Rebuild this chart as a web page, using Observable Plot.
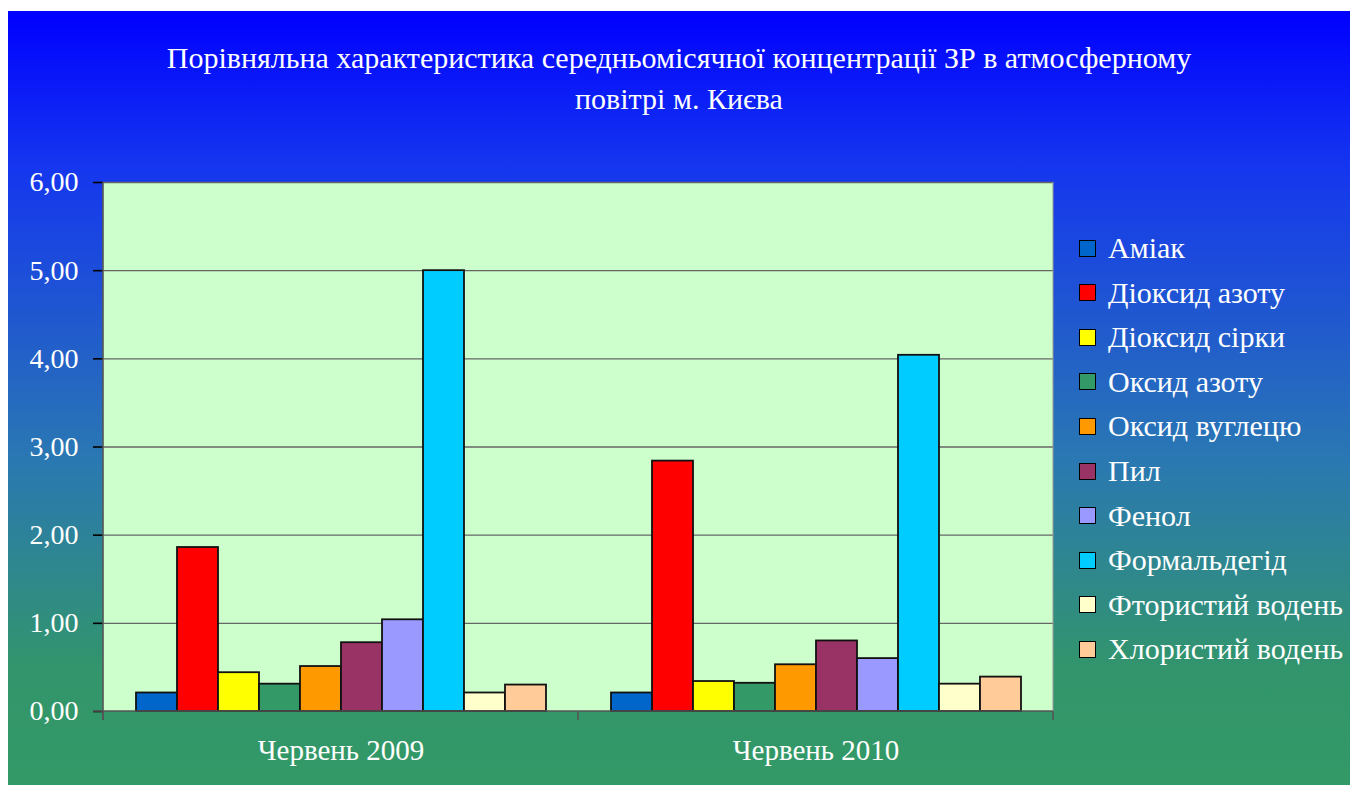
<!DOCTYPE html>
<html>
<head>
<meta charset="utf-8">
<script src="https://cdn.jsdelivr.net/npm/d3@7"></script>
<script src="https://cdn.jsdelivr.net/npm/@observablehq/plot@0.6"></script>
<style>
  html, body { margin: 0; padding: 0; background: #fff; }
  #page { position: relative; width: 1350px; height: 785px; overflow: hidden; background: #fff; font-family: "Liberation Serif", "Times New Roman", serif; }
  #bg { position: absolute; left: 8px; top: 11px; width: 1342px; height: 774px;
        background: linear-gradient(to bottom, #0000ff 0%, #1536ef 20%, #2a78b2 58%, #32956c 85%, #339966 100%); }
  #title { position: absolute; left: 8px; width: 1342px; top: 37px; text-align: center; color: #fff; font-size: 30px; line-height: 41px; }
  #chart { position: absolute; left: 8px; top: 140px; }
  #legend { position: absolute; left: 1079px; top: 226px; color: #fff; font-size: 30px; }
  .row { position: absolute; left: 0; height: 44px; white-space: nowrap; display: flex; align-items: center; }
  .sw { width: 15px; height: 15px; border: 1.6px solid #000; margin-right: 12px; box-sizing: content-box; }
</style>
</head>
<body>
<div id="page">
  <div id="bg"></div>
  <div id="title">Порівняльна характеристика середньомісячної концентрації ЗР в атмосферному<br>повітрі м. Києва</div>
  <div id="chart"></div>
  <div id="legend"></div>
</div>
<script>
const periods = ["Червень 2009", "Червень 2010"];
const substances = ["Аміак", "Діоксид азоту", "Діоксид сірки", "Оксид азоту", "Оксид вуглецю", "Пил", "Фенол", "Формальдегід", "Фтористий водень", "Хлористий водень"];
const colors = ["#0066cc", "#ff0000", "#ffff00", "#339966", "#ff9900", "#993366", "#9999ff", "#00ccff", "#ffffcc", "#ffcc99"];
const values2009 = [0.21, 1.86, 0.44, 0.31, 0.51, 0.78, 1.04, 5.00, 0.21, 0.30];
const values2010 = [0.21, 2.84, 0.34, 0.32, 0.53, 0.80, 0.60, 4.04, 0.31, 0.39];
const yTicks = [0, 1, 2, 3, 4, 5, 6];

const data = [];
substances.forEach((s, i) => {
  data.push({period: periods[0], substance: s, value: values2009[i]});
  data.push({period: periods[1], substance: s, value: values2010[i]});
});

const W = 1342, H = 645;
const mL = 95, mR = 297, mT = 42, mB = 74;

const plot = Plot.plot({
  width: W, height: H,
  marginLeft: mL, marginRight: mR, marginTop: mT, marginBottom: mB,
  style: {background: "transparent", fontFamily: "Liberation Serif, Times New Roman, serif", overflow: "visible"},
  fx: {domain: periods, padding: 0, label: null, axis: "bottom", tickSize: 0, tickPadding: 28},
  x: {domain: substances, paddingInner: 0, paddingOuter: 0.75, axis: null},
  y: {domain: [0, 6], ticks: yTicks, label: null, tickSize: 10, tickPadding: 15,
      tickFormat: d => d.toFixed(2).replace(".", ",")},
  color: {domain: substances, range: colors},
  marks: [
    Plot.ruleY(yTicks.slice(1), {stroke: "#666", strokeWidth: 1.3}),
    Plot.barY(data, {fx: "period", x: "substance", y: "value", fill: "substance", stroke: "#111", strokeWidth: 1.8})
  ]
});

const svg = d3.select(plot);
svg.selectAll("[aria-label='y-axis tick label']").attr("fill", "#fff").style("font-size", "28px");
svg.selectAll("[aria-label='fx-axis tick label']").attr("fill", "#fff").style("font-size", "29px");
svg.selectAll("[aria-label='y-axis tick']").attr("stroke", "#555").attr("stroke-width", 1.6);

const fx = plot.scale("fx"), y = plot.scale("y");
const y0 = y.apply(0), yTop = y.apply(6);
// plot area background, drawn once behind everything
svg.insert("rect", ":first-child")
  .attr("x", mL).attr("y", yTop).attr("width", W - mR - mL).attr("height", y0 - yTop)
  .attr("fill", "#ccffcc");
svg.insert("style", ":first-child").text("");
const g = svg.append("g").attr("stroke", "#555").attr("stroke-width", 1.6);
g.append("line").attr("x1", mL).attr("x2", mL).attr("y1", yTop).attr("y2", y0 + 9);
g.append("line").attr("x1", mL - 10).attr("x2", W - mR).attr("y1", y0).attr("y2", y0);
g.append("line").attr("x1", W - mR).attr("x2", W - mR).attr("y1", yTop).attr("y2", y0).attr("stroke", "#999").attr("stroke-width", 1);
periods.forEach(p => {
  const x0 = fx.apply(p);
  g.append("line").attr("x1", x0).attr("x2", x0).attr("y1", y0).attr("y2", y0 + 9);
});
g.append("line").attr("x1", W - mR).attr("x2", W - mR).attr("y1", y0).attr("y2", y0 + 9);

document.getElementById("chart").appendChild(plot);

const legend = document.getElementById("legend");
substances.forEach((s, i) => {
  const row = document.createElement("div");
  row.className = "row";
  row.style.top = (i * 44.6) + "px";
  const sw = document.createElement("div");
  sw.className = "sw";
  sw.style.background = colors[i];
  const t = document.createElement("span");
  t.textContent = s;
  row.appendChild(sw); row.appendChild(t);
  legend.appendChild(row);
});
</script>
</body>
</html>
